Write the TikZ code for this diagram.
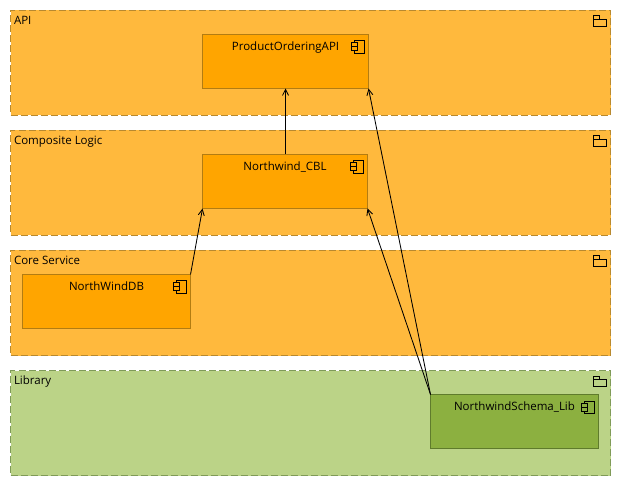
\documentclass[tikz,border=0pt]{standalone}
\usepackage{fontspec}
\setmainfont{Open Sans}
\usepackage{xcolor}
\usetikzlibrary{arrows.meta, positioning}
\definecolor{layerfill}{HTML}{FFB93D}
\definecolor{layerline}{HTML}{B8892F}
\definecolor{compfill}{HTML}{FFA500}
\definecolor{compline}{HTML}{B27C12}
\definecolor{libfill}{HTML}{BBD387}
\definecolor{libline}{HTML}{7F9A58}
\definecolor{libcompfill}{HTML}{8CB040}
\definecolor{libcompline}{HTML}{5F7B2C}

\begin{document}
\begin{tikzpicture}[
    x=1pt, y=-1pt,
    font=\fontsize{11.5}{13}\selectfont,
    >={Straight Barb[length=6pt,width=6pt]},
    every node/.style={inner sep=0pt, outer sep=0pt},
    layer/.style={draw=layerline, fill=layerfill, line width=1pt,
                  dash pattern=on 7pt off 3pt, anchor=north west,
                  minimum width=600pt, minimum height=105pt},
    liblayer/.style={layer, draw=libline, fill=libfill},
    comp/.style={draw=compline, fill=compfill, line width=1pt,
                 anchor=north west, minimum height=54pt},
    libcomp/.style={comp, draw=libcompline, fill=libcompfill},
    layerlbl/.style={anchor=north west, text=black},
    complbl/.style={anchor=north, text=black},
    arrow/.style={->, draw=black, line width=0.85pt},
    icon/.style={draw=black, line width=1pt},
    pics/foldericon/.style={code={
      \draw[icon] (-17,5.5) rectangle (-11,9);
      \draw[icon] (-17,9) rectangle (-4,16);
    }},
    pics/compicon/.style={code={
      \draw[icon] (-14,6.5) rectangle (-4,19);
      \draw[icon, fill=#1] (-17,8.5) rectangle (-11,12.5);
      \draw[icon, fill=#1] (-17,12.5) rectangle (-11,16.5);
    }},
  ]
  \useasboundingbox (0,0) rectangle (621,486);

  %% --- layers ------------------------------------------------------------
  \node[layer]    (apilayer)  at (10.5,10.5)  {};
  \node[layer]    (cbllayer)  at (10.5,130.5) {};
  \node[layer]    (corelayer) at (10.5,250.5) {};
  \node[liblayer] (liblayer)  at (10.5,370.5) {};

  \node[layerlbl] (apilbl)  at (14,16)  {API};
  \node[layerlbl] (cbllbl)  at (14,136) {Composite Logic};
  \node[layerlbl] (corelbl) at (14,256) {Core Service};
  \node[layerlbl] (liblbl)  at (14,376) {Library};

  \pic at (apilayer.north east)  {foldericon};
  \pic at (cbllayer.north east)  {foldericon};
  \pic at (corelayer.north east) {foldericon};
  \pic at (liblayer.north east)  {foldericon};

  %% --- components --------------------------------------------------------
  \node[comp, minimum width=166pt]    (api) at (202.5,34.5)  {};
  \node[comp, minimum width=165pt]    (cbl) at (202.5,154.5) {};
  \node[comp, minimum width=168pt]    (db)  at (22.5,274.5)  {};
  \node[libcomp, minimum width=168pt] (lib) at (430.5,394.5) {};

  \node[complbl] (apitxt) at ([yshift=-7pt]api.north) {ProductOrderingAPI};
  \node[complbl] (cbltxt) at ([yshift=-7pt]cbl.north) {Northwind\_CBL};
  \node[complbl] (dbtxt)  at ([yshift=-7pt]db.north)  {NorthWindDB};
  \node[complbl] (libtxt) at ([yshift=-7pt]lib.north) {NorthwindSchema\_Lib};

  \pic at (api.north east) {compicon=compfill};
  \pic at (cbl.north east) {compicon=compfill};
  \pic at (db.north east)  {compicon=compfill};
  \pic at (lib.north east) {compicon=libcompfill};

  %% --- arrows ------------------------------------------------------------
  \draw[arrow] (cbl.north -| api.south) -- (api.south);
  \draw[arrow] (db.north east)  -- (cbl.south west);
  \draw[arrow] (lib.north west) -- (cbl.south east);
  \draw[arrow] (lib.north west) -- (api.south east);

\end{tikzpicture}
\end{document}
